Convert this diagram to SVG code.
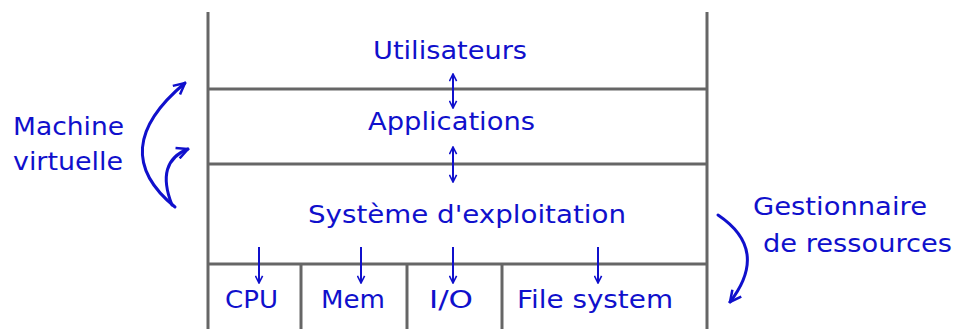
<svg xmlns="http://www.w3.org/2000/svg" width="957" height="329" viewBox="0 0 957 329">
<defs>
<style>
.frame{stroke:#666;stroke-width:3;fill:none}
.lbl{font-family:"DejaVu Sans",Verdana,sans-serif;font-size:24px;fill:#1010cc}
.arr{stroke:#1010cc;stroke-width:2;fill:none}
.curve{stroke:#1010cc;stroke-width:3;fill:none;stroke-linecap:round}
</style>
<marker id="ah" viewBox="0 0 10 10" refX="9" refY="5" markerWidth="9" markerHeight="9" markerUnits="userSpaceOnUse" orient="auto-start-reverse">
<path d="M1,1 L9,5 L1,9" fill="none" stroke="#1010cc" stroke-width="1.8"/>
</marker>
<marker id="ahc" viewBox="0 0 10 10" refX="9" refY="5" markerWidth="14" markerHeight="14" markerUnits="userSpaceOnUse" orient="auto">
<path d="M1,1 L9,5 L1,9" fill="none" stroke="#1010cc" stroke-width="1.8"/>
</marker>
</defs>
<rect width="957" height="329" fill="#fff"/>
<g id="frame">
<line class="frame" x1="208" y1="12" x2="208" y2="329"/>
<line class="frame" x1="707" y1="12" x2="707" y2="329"/>
<line class="frame" x1="208" y1="89" x2="707" y2="89"/>
<line class="frame" x1="208" y1="164" x2="707" y2="164"/>
<line class="frame" x1="208" y1="264" x2="707" y2="264"/>
<line class="frame" x1="301" y1="264" x2="301" y2="329"/>
<line class="frame" x1="407" y1="264" x2="407" y2="329"/>
<line class="frame" x1="502" y1="264" x2="502" y2="329"/>
</g>
<g id="utilisateurs"><text class="lbl" x="373" y="59" textLength="154" lengthAdjust="spacingAndGlyphs">Utilisateurs</text></g>
<g id="applications"><text class="lbl" x="368" y="130" textLength="167" lengthAdjust="spacingAndGlyphs">Applications</text></g>
<g id="systeme"><text class="lbl" x="308" y="223" textLength="318" lengthAdjust="spacingAndGlyphs">Système d'exploitation</text></g>
<g id="cpu"><text class="lbl" x="225" y="308" textLength="53" lengthAdjust="spacingAndGlyphs">CPU</text></g>
<g id="mem"><text class="lbl" x="321" y="308" textLength="64" lengthAdjust="spacingAndGlyphs">Mem</text></g>
<g id="io"><text class="lbl" x="429" y="308" textLength="44" lengthAdjust="spacingAndGlyphs">I/O</text></g>
<g id="filesystem"><text class="lbl" x="517" y="308" textLength="156" lengthAdjust="spacingAndGlyphs">File system</text></g>
<g id="machine-virtuelle">
<text class="lbl" x="13" y="135" textLength="111" lengthAdjust="spacingAndGlyphs">Machine</text>
<text class="lbl" x="13" y="170" textLength="110" lengthAdjust="spacingAndGlyphs">virtuelle</text>
</g>
<g id="gestionnaire">
<text class="lbl" x="753" y="215" textLength="174" lengthAdjust="spacingAndGlyphs">Gestionnaire</text>
<text class="lbl" x="763" y="252" textLength="189" lengthAdjust="spacingAndGlyphs">de ressources</text>
</g>
<g id="connectors">
<line class="arr" x1="453" y1="74" x2="453" y2="108" marker-start="url(#ah)" marker-end="url(#ah)"/>
<line class="arr" x1="453" y1="147" x2="453" y2="182" marker-start="url(#ah)" marker-end="url(#ah)"/>
<line class="arr" x1="259" y1="247" x2="259" y2="283" marker-end="url(#ah)"/>
<line class="arr" x1="361" y1="247" x2="361" y2="283" marker-end="url(#ah)"/>
<line class="arr" x1="453" y1="247" x2="453" y2="283" marker-end="url(#ah)"/>
<line class="arr" x1="598" y1="247" x2="598" y2="283" marker-end="url(#ah)"/>
<path class="curve" d="M175,207 Q105,150 185,83" marker-end="url(#ahc)"/>
<path class="curve" d="M172,205 Q155,162 188,149" marker-end="url(#ahc)"/>
<path class="curve" d="M718,215 Q770,250 730,302" marker-end="url(#ahc)"/>
</g>
</svg>
